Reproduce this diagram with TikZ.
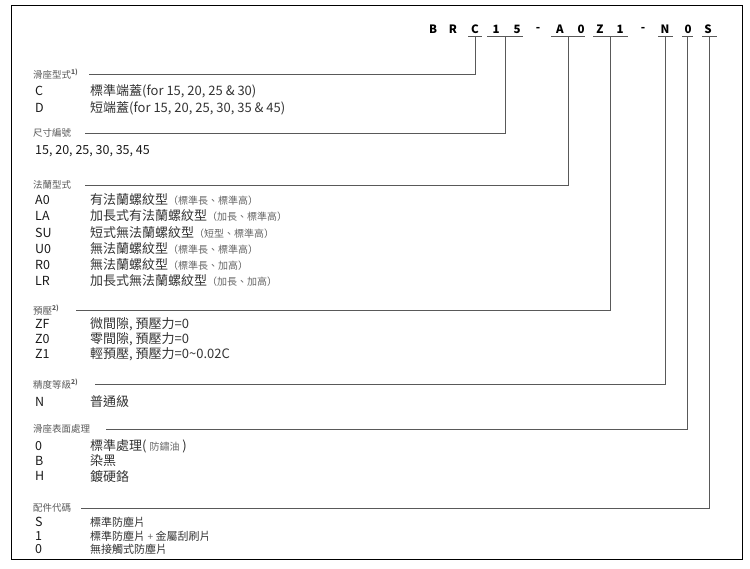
\documentclass[tikz,border=0pt]{standalone}
\usepackage{fontspec}
\setmainfont{Noto Sans CJK TC}
\newcommand\smallnote[1]{{\fontsize{10}{12}\selectfont\color{black!60}#1}}

\begin{document}
\begin{tikzpicture}[x=1pt,y=-1pt,
  codech/.style={font=\fontsize{11.5}{13}\selectfont\bfseries,inner sep=0pt},
  uline/.style={black!65,line width=0.8pt},
  hdr/.style={anchor=west,inner sep=0pt,font=\fontsize{9.5}{11}\selectfont,text=black!65},
  key/.style={anchor=west,inner sep=0pt,font=\fontsize{12.5}{14}\selectfont,text=black!90},
  desc/.style={anchor=west,inner sep=0pt,font=\fontsize{13}{15}\selectfont,text=black!80},
  descsm/.style={desc,font=\fontsize{11}{13}\selectfont},
  lead/.style={black!65,line width=0.8pt}]
\useasboundingbox (0,0) rectangle (750,568);
\draw[line width=0.8pt] (11,5) rectangle (742,559);
\foreach \ch/\x [count=\i] in {B/433,R/453,C/475,1/496,5/517,-/538,A/560,0/581,Z/600,1/620,-/643,N/665,0/688,S/708}
  \node[codech] (l\i) at (\x,29) {\ch};
\foreach \a/\b [count=\n] in {468/482,487/523,551/585,593/628,658/673,682/693,702/717} {
  \draw[uline] (\a,36) -- (\b,36);
  \coordinate (u\n) at ({(\a+\b)/2},36);
}
\node[hdr] (h1) at (33,74) {滑座型式\textsuperscript{\bfseries 1)}};
\node[hdr] (h2) at (33,133) {尺寸編號};
\node[hdr] (h3) at (33,185) {法蘭型式};
\node[hdr] (h4) at (33,310) {預壓\textsuperscript{\bfseries 2)}};
\node[hdr] (h5) at (33,384) {精度等級\textsuperscript{\bfseries 2)}};
\node[hdr] (h6) at (33,429) {滑座表面處理};
\node[hdr] (h7) at (33,508) {配件代碼};
\foreach \n/\g in {1/10,2/14,3/14,4/16,5/16,6/16,7/10}
  \draw[lead] (u\n) |- ([xshift=\g]h\n.east);

\node[key] (kC) at (35,91) {C};
\node[desc] (dC) at (90,91) {標準端蓋(for 15, 20, 25 \& 30)};
\node[key] (kD) at (35,108) {D};
\node[desc] (dD) at (90,108) {短端蓋(for 15, 20, 25, 30, 35 \& 45)};
\node[key] (ksz) at (35,151) {15, 20, 25, 30, 35, 45};

\node[key] (kA0) at (35,200) {A0};
\node[desc] (dA0) at (90,200) {有法蘭螺紋型\smallnote{（標準長、標準高）}};
\node[key] (kLA) at (35,216) {LA};
\node[desc] (dLA) at (90,216) {加長式有法蘭螺紋型\smallnote{（加長、標準高）}};
\node[key] (kSU) at (35,233) {SU};
\node[desc] (dSU) at (90,233) {短式無法蘭螺紋型\smallnote{（短型、標準高）}};
\node[key] (kU0) at (35,249) {U0};
\node[desc] (dU0) at (90,249) {無法蘭螺紋型\smallnote{（標準長、標準高）}};
\node[key] (kR0) at (35,265) {R0};
\node[desc] (dR0) at (90,265) {無法蘭螺紋型\smallnote{（標準長、加高）}};
\node[key] (kLR) at (35,281) {LR};
\node[desc] (dLR) at (90,281) {加長式無法蘭螺紋型\smallnote{（加長、加高）}};

\node[key] (kZF) at (35,324) {ZF};
\node[desc] (dZF) at (90,324) {微間隙, 預壓力=0};
\node[key] (kZ0) at (35,339) {Z0};
\node[desc] (dZ0) at (90,339) {零間隙, 預壓力=0};
\node[key] (kZ1) at (35,354) {Z1};
\node[desc] (dZ1) at (90,354) {輕預壓, 預壓力=0\textasciitilde0.02C};

\node[key] (kN) at (35,402) {N};
\node[desc] (dN) at (90,402) {普通級};

\node[key] (k0) at (35,446) {0};
\node[desc] (d0) at (90,446) {標準處理(\ \smallnote{防鏽油}\ )};
\node[key] (kB) at (35,461) {B};
\node[desc] (dB) at (90,461) {染黑};
\node[key] (kH) at (35,476) {H};
\node[desc] (dH) at (90,476) {鍍硬鉻};

\node[key] (kS) at (35,522) {S};
\node[descsm] (dS) at (90,522) {標準防塵片};
\node[key] (k1) at (35,536) {1};
\node[descsm] (d1) at (90,536) {標準防塵片 \smallnote{+} 金屬刮刷片};
\node[key] (kn0) at (35,549) {0};
\node[descsm] (dn0) at (90,549) {無接觸式防塵片};
\end{tikzpicture}
\end{document}
